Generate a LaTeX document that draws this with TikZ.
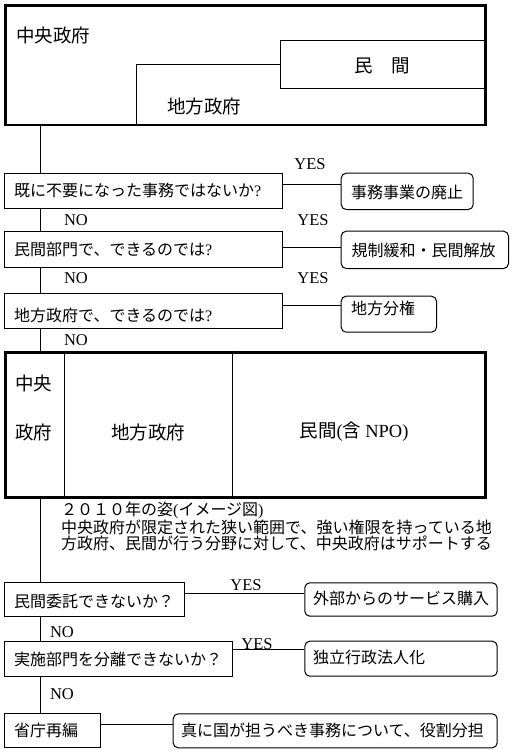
\documentclass[tikz,border=0pt]{standalone}
\usepackage{fontspec}
\setmainfont{Liberation Serif}
\newfontfamily\jp{Noto Sans CJK JP}
\begin{document}
\begin{tikzpicture}[x=1pt,y=-1pt,
  ln/.style={line width=1pt},
  thickbox/.style={draw, line width=2.8pt, rectangle, anchor=north west, inner sep=0pt},
  qbox/.style={draw, line width=1pt, rectangle, anchor=north west, inner sep=0pt},
  abox/.style={draw, line width=1pt, rectangle, rounded corners=5pt, anchor=north west, inner sep=0pt},
  jbig/.style={inner sep=0pt, font=\jp\fontsize{18.5}{20}\selectfont},
  jtxt/.style={inner sep=0pt, anchor=west, font=\jp\fontsize{16}{17}\selectfont},
  yn/.style={inner sep=0pt, font=\fontsize{16.5}{17}\selectfont}]
\useasboundingbox (0,0) rectangle (513,750);
\fill[white] (0,0) rectangle (513,750);
\coordinate (trunk) at (40.5,0);

% top box
\node[thickbox, minimum width=480pt, minimum height=119.5pt] (top) at (4,4) {};
\node[qbox, minimum width=204pt, minimum height=48pt] (minkan) at (280,40) {};
\coordinate (loc1) at (136.5,124);
\coordinate (loc2) at (136.5,64.3);
\draw[ln] (loc1) -- (loc2) -- (loc2 -| minkan.west);
\node[jbig, anchor=west] (tc) at (16,35) {中央政府};
\node[jbig] (tm) at (382,66) {民　間};
\node[jbig, anchor=west] (tl) at (167,106) {地方政府};

% question boxes
\node[qbox, minimum width=278pt, minimum height=35.3pt] (q1) at (4,172.7) {};
\node[qbox, minimum width=278pt, minimum height=36pt] (q2) at (4,230.7) {};
\node[qbox, minimum width=278pt, minimum height=35.6pt] (q3) at (4,292.7) {};
\node[abox, minimum width=132pt, minimum height=36.3pt] (a1) at (340.7,172.7) {};
\node[abox, minimum width=167.3pt, minimum height=37.3pt] (a2) at (340.7,230.7) {};
\node[abox, minimum width=95.3pt, minimum height=36pt] (a3) at (340.7,295.7) {};

\node[jtxt] (t1) at (14,190) {既に不要になった事務ではないか{\rmfamily ?}};
\node[jtxt] (t2) at (14,249.5) {民間部門で、できるのでは{\rmfamily ?}};
\node[jtxt] (t3) at (14,315.5) {地方政府で、できるのでは{\rmfamily ?}};
\node[jtxt, anchor=center] (u1) at (407,192) {事務事業の廃止};
\node[jtxt, anchor=center] (u2) at (423.5,250) {規制緩和・民間解放};
\node[jtxt] (u3) at (351,308) {地方分権};

\node[yn] (y1) at (310,164) {YES};
\node[yn] (n1) at (76,220) {NO};
\node[yn] (y2) at (313,220) {YES};
\node[yn] (n2) at (76,278) {NO};
\node[yn] (y3) at (313,278) {YES};
\node[yn] (n3) at (76,340) {NO};

\draw[ln] ([yshift=6.3pt]q1.east) -- ([yshift=6.3pt]q1.east -| a1.west);
\draw[ln] ([yshift=2pt]q2.east) -- ([yshift=2pt]q2.east -| a2.west);
\draw[ln] ([yshift=5.5pt]q3.east) -- ([yshift=5.5pt]q3.east -| a3.west);

% big box
\node[thickbox, minimum width=480pt, minimum height=145pt] (big) at (4,350.7) {};
\coordinate (d1) at (64.3,350.7);
\coordinate (d2) at (232.3,350.7);
\draw[ln] (d1) -- (d1 |- big.south);
\draw[ln] (d2) -- (d2 |- big.south);
\node[jbig] (b1) at (34,383) {中央};
\node[jbig] (b2) at (34,432) {政府};
\node[jbig] (b3) at (148,432) {地方政府};
\node[jbig] (b4) at (354,432) {民間{\rmfamily (}含 {\rmfamily NPO)}};

% description
\node[inner sep=0pt, anchor=north west, align=left, font=\jp\fontsize{16}{15.9}\selectfont] (desc) at (61,501.5)
  {２０１０年の姿{\rmfamily (}イメージ図{\rmfamily )}\\中央政府が限定された狭い範囲で、強い権限を持っている地\\方政府、民間が行う分野に対して、中央政府はサポートする};

% lower boxes
\node[qbox, minimum width=180.3pt, minimum height=33.4pt] (q4) at (4,582.3) {};
\node[qbox, minimum width=228.3pt, minimum height=35pt] (q5) at (4,640.7) {};
\node[qbox, minimum width=96pt, minimum height=34pt] (q6) at (4,713.3) {};
\node[abox, minimum width=192.4pt, minimum height=33.4pt] (a4) at (304.3,582.3) {};
\node[abox, minimum width=192.4pt, minimum height=35pt] (a5) at (304.3,640.7) {};
\node[abox, minimum width=324pt, minimum height=34pt] (a6) at (172.7,713.3) {};

\node[jtxt] (t4) at (14,601.5) {民間委託できないか？};
\node[jtxt] (t5) at (14,659) {実施部門を分離できないか？};
\node[jtxt] (t6) at (14,730) {省庁再編};
\node[jtxt] (u4) at (313,598.5) {外部からのサービス購入};
\node[jtxt] (u5) at (313,657) {独立行政法人化};
\node[jtxt] (u6) at (181,730) {真に国が担うべき事務について、役割分担};

\node[yn] (y4) at (246,585) {YES};
\node[yn] (n4) at (62,632) {NO};
\node[yn] (y5) at (257,644.5) {YES};
\node[yn] (n5) at (62,694) {NO};

\draw[ln] ([yshift=6.3pt]q4.east) -- ([yshift=6.3pt]q4.east -| a4.west);
\draw[ln] ([yshift=9.2pt]q5.east) -- ([yshift=9.2pt]q5.east -| a5.west);
\draw[ln] ([yshift=6.3pt]q6.east) -- ([yshift=6.3pt]q6.east -| a6.west);

% trunk
\draw[ln] (top.south -| trunk) -- (q1.north -| trunk);
\draw[ln] (q1.south -| trunk) -- (q2.north -| trunk);
\draw[ln] (q2.south -| trunk) -- (q3.north -| trunk);
\draw[ln] (q3.south -| trunk) -- (big.north -| trunk);
\draw[ln] (big.south -| trunk) -- (q4.north -| trunk);
\draw[ln] (q4.south -| trunk) -- (q5.north -| trunk);
\draw[ln] (q5.south -| trunk) -- (q6.north -| trunk);
\end{tikzpicture}
\end{document}
